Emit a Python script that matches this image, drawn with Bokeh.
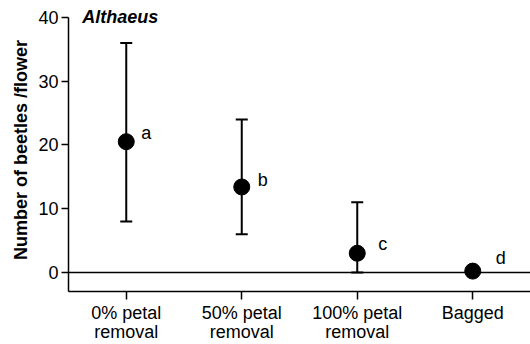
from bokeh.plotting import figure
from bokeh.models import (FactorRange, Range1d, ColumnDataSource, Whisker, TeeHead,
                          Span, FixedTicker, LabelSet, Label)
from bokeh.core.properties import value
from bokeh.embed import file_html
from bokeh.resources import INLINE

# ---- data ----
categories = ["0% petal\nremoval", "50% petal\nremoval", "100% petal\nremoval", "Bagged"]
means = [20.5, 13.4, 3.0, 0.2]
upper = [36.0, 24.0, 11.0, 0.2]
lower = [8.0, 6.0, 0.0, 0.2]
letters = ["a", "b", "c", "d"]
y_ticks = [0, 10, 20, 30, 40]
title_text = "Althaeus"

FONT = "Liberation Sans"

p = figure(width=530, height=344, x_range=FactorRange(factors=categories, range_padding=0),
           y_range=Range1d(-3, 41.4), output_backend="svg", toolbar_location=None,
           min_border_left=68, min_border_right=0, min_border_top=8, min_border_bottom=53)
p.outline_line_color = None
p.xgrid.grid_line_color = None
p.ygrid.grid_line_color = None
p.background_fill_color = "white"

# axes
for ax in (p.xaxis, p.yaxis):
    ax.axis_line_width = 1.5
    ax.axis_line_color = "black"
    ax.major_tick_line_width = 1.5
    ax.major_tick_line_color = "black"
    ax.major_tick_in = 0
    ax.minor_tick_line_color = None
    ax.major_label_text_font = FONT
    ax.major_label_text_font_size = "18px"
    ax.major_label_text_color = "black"

p.yaxis.bounds = (-3, 40)
p.yaxis.ticker = FixedTicker(ticks=y_ticks)
p.yaxis.major_tick_out = 7
p.yaxis.major_label_standoff = 3
p.yaxis.axis_label = "Number of beetles /flower"
p.yaxis.axis_label_text_font = FONT
p.yaxis.axis_label_text_font_size = "18px"
p.yaxis.axis_label_text_font_style = "bold"
p.yaxis.axis_label_text_color = "black"
p.yaxis.axis_label_standoff = 4

p.xaxis.major_tick_out = 8
p.xaxis.major_label_standoff = 3
p.xaxis.major_label_text_line_height = 0.95
p.xaxis.group_text_font_size = "0px"

# zero line
p.add_layout(Span(location=0, dimension="width", line_color="black", line_width=1.5))

src = ColumnDataSource(dict(x=categories[:3], upper=upper[:3], lower=lower[:3]))
p.add_layout(Whisker(source=src, base="x", upper="upper", lower="lower",
                     line_width=2, line_color="black",
                     upper_head=TeeHead(size=12, line_width=2, line_color="black"),
                     lower_head=TeeHead(size=12, line_width=2, line_color="black")))

ps = ColumnDataSource(dict(x=categories, y=means, t=letters,
                           xo=[15, 16, 21, 23], yo=[9, 7, 9, 13]))
p.scatter("x", "y", source=ps, size=16, fill_color="black", line_color="black")

p.add_layout(LabelSet(x="x", y="y", text="t", source=ps, x_offset="xo", y_offset="yo",
                      text_font=value(FONT), text_font_size=value("18px"), text_color="black",
                      text_baseline="middle", text_align="left"))

p.add_layout(Label(x=0.12, y=40, text=title_text,
                   text_font=FONT, text_font_size="18px", text_font_style="bold italic",
                   text_color="black", text_baseline="middle", text_align="left"))

open("out.html", "w").write(file_html(p, INLINE))
